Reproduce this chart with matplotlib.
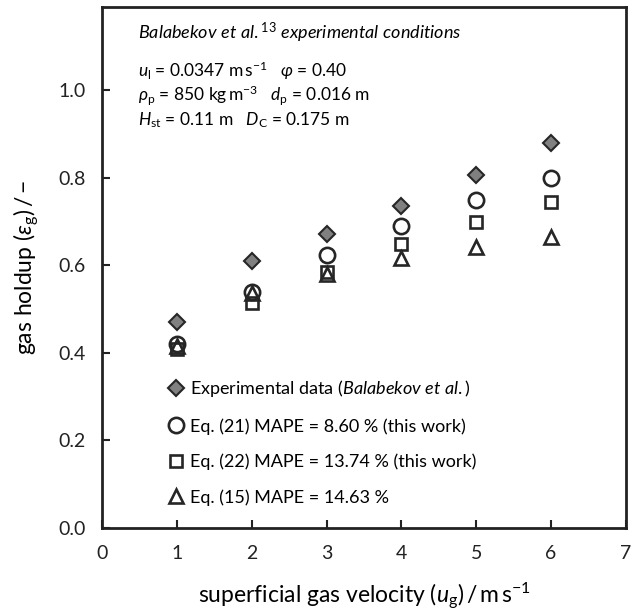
import numpy as np
import matplotlib
matplotlib.use("Agg")
import matplotlib.pyplot as plt

plt.rcParams['font.family'] = ['Lato', 'DejaVu Sans']
plt.rcParams['mathtext.fontset'] = 'custom'
plt.rcParams['mathtext.rm'] = 'Lato'
plt.rcParams['mathtext.it'] = 'Lato:italic'
plt.rcParams['mathtext.bf'] = 'Lato:bold'
plt.rcParams['mathtext.fallback'] = 'cm'

# superficial gas velocity, m/s
ug = [1, 2, 3, 4, 5, 6]
# gas holdup
exp_data = [0.47, 0.61, 0.672, 0.736, 0.807, 0.88]
eq21 = [0.42, 0.54, 0.624, 0.69, 0.75, 0.80]
eq22 = [0.41, 0.514, 0.585, 0.649, 0.70, 0.745]
eq15 = [0.415, 0.537, 0.58, 0.617, 0.642, 0.665]

lbl_exp = r'Experimental data ($\mathit{Balabekov\ et\ al.}$)'
lbl_21 = 'Eq. (21) MAPE = 8.60 % (this work)'
lbl_22 = 'Eq. (22) MAPE = 13.74 % (this work)'
lbl_15 = 'Eq. (15) MAPE = 14.63 %'

ec = '#262626'

fig = plt.figure(figsize=(6.38, 6.15), dpi=100)
ax = fig.add_axes([0.16, 0.1415, 0.821, 0.847])

ax.plot(ug, exp_data, ls='none', marker='D', ms=8.5, mfc='#808080', mec=ec, mew=1.5, label=lbl_exp, zorder=4)
ax.plot(ug, eq21, ls='none', marker='o', ms=11, mfc='white', mec=ec, mew=1.9, label=lbl_21, zorder=3)
ax.plot(ug, eq22, ls='none', marker='s', ms=8.5, mfc='none', mec=ec, mew=1.9, label=lbl_22, zorder=3)
ax.plot(ug, eq15, ls='none', marker='^', ms=10.5, mfc='none', mec=ec, mew=1.9, label=lbl_15, zorder=3)

ax.set_xlim(0, 7)
ax.set_ylim(0, 1.19)
ax.set_xticks(range(0, 8))
ax.set_yticks(np.arange(0, 1.01, 0.2))
ax.set_yticklabels(['%.1f' % v for v in np.arange(0, 1.01, 0.2)])

for s in ax.spines.values():
    s.set_linewidth(2)
    s.set_color('#222222')
ax.tick_params(direction='in', length=6, width=1.5, labelsize=14, colors='#222222')
ax.tick_params(axis='x', pad=12)
ax.tick_params(axis='y', pad=12)

ax.set_xlabel(r'superficial gas velocity ($u_\mathrm{g}$)$\,/\,$m$\,$s$^{-1}$', fontsize=16.5, labelpad=14)
ax.set_ylabel(r'gas holdup ($\varepsilon_\mathrm{g}$)$\,/\,$−', fontsize=16.5, labelpad=12)

tx = 0.48
ax.text(tx, 1.132, r'$\mathit{Balabekov\ et\ al.}^{\mathrm{13}}\ \mathit{experimental\ conditions}$',
        fontsize=13, va='center', ha='left')
ax.text(tx, 1.045, r'$u_\mathrm{l}$ = 0.0347 m$\,$s$^{-1}$   $\varphi$ = 0.40', fontsize=12.5, va='center')
ax.text(tx, 0.99, r'$\rho_\mathrm{p}$ = 850 kg$\,$m$^{-3}$   $d_\mathrm{p}$ = 0.016 m', fontsize=12.5, va='center')
ax.text(tx, 0.932, r'$H_\mathrm{st}$ = 0.11 m   $D_\mathrm{C}$ = 0.175 m', fontsize=12.5, va='center')

ax.legend(loc='lower left', bbox_to_anchor=(0.114, 0.029), frameon=False, fontsize=13,
          handlelength=0.8, handletextpad=0.38, labelspacing=1.05, borderaxespad=0)

fig.savefig('out.png', dpi=100)
